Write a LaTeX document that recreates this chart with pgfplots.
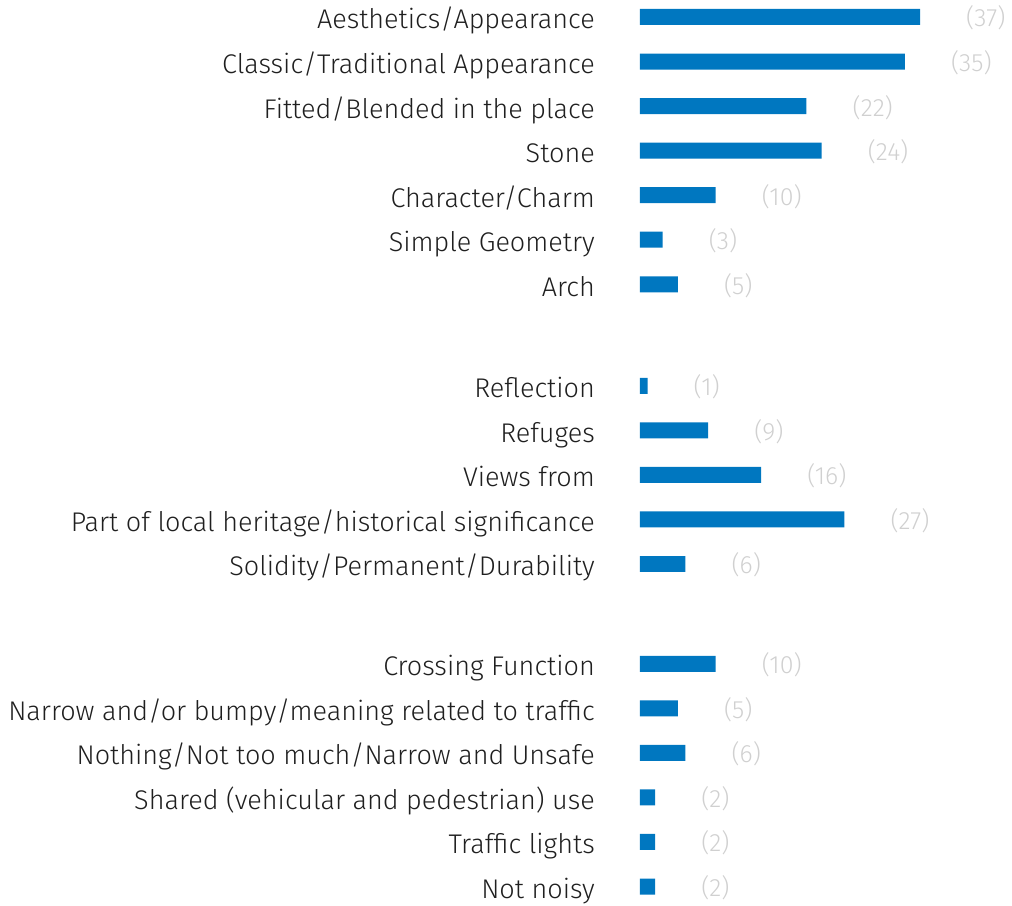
\documentclass[border=0pt]{standalone}
\usepackage{fontspec}
\setmainfont{Fira Sans Light}
\usepackage{pgfplots}
\pgfplotsset{compat=1.18}
\definecolor{barblue}{HTML}{0077C0}
\definecolor{numgray}{HTML}{D0D0D0}
\begin{document}
\begin{tikzpicture}
\begin{axis}[
 scale only axis, width=1012pt, height=906pt,
 xmin=-84.54, xmax=49.14, ymin=-0.3816, ymax=19.955, y dir=reverse,
 axis line style={draw=none}, major tick length=0pt, xtick=\empty,
 ytick={0,1,2,3,4,5,6,8.28,9.28,10.28,11.28,12.28,14.52,15.52,16.52,17.52,18.52,19.52},
 yticklabels={Aesthetics/Appearance,Classic/Traditional Appearance,Fitted/Blended in the place,Stone,Character/Charm,Simple Geometry,Arch,Reflection,Refuges,Views from,Part of local heritage/historical significance,Solidity/Permanent/Durability,Crossing Function,Narrow and/or bumpy/meaning related to traffic,Nothing/Not too much/Narrow and Unsafe,Shared (vehicular and pedestrian) use,Traffic lights,Not noisy},
 yticklabel style={anchor=base east, xshift=595pt, yshift=-12pt, font=\fontsize{27}{32}\selectfont, text=black!88, inner sep=0pt},
 xbar, bar width=16pt, bar shift=0pt,
 clip=false,
 point meta=x,
 /pgf/number format/assume math mode=true,
 nodes near coords={(\pgfmathprintnumber{\pgfplotspointmeta})},
 every node near coord/.append style={anchor=base west, xshift=46pt, yshift=-10pt, inner sep=0pt, text=numgray, font=\fontsize{25}{30}\selectfont},
]
\addplot[fill=barblue, draw=none] coordinates {
(37,0) (35,1) (22,2) (24,3) (10,4) (3,5) (5,6)
(1,8.28) (9,9.28) (16,10.28) (27,11.28) (6,12.28)
(10,14.52) (5,15.52) (6,16.52) (2,17.52) (2,18.52) (2,19.52)
};
\end{axis}
\end{tikzpicture}
\end{document}
